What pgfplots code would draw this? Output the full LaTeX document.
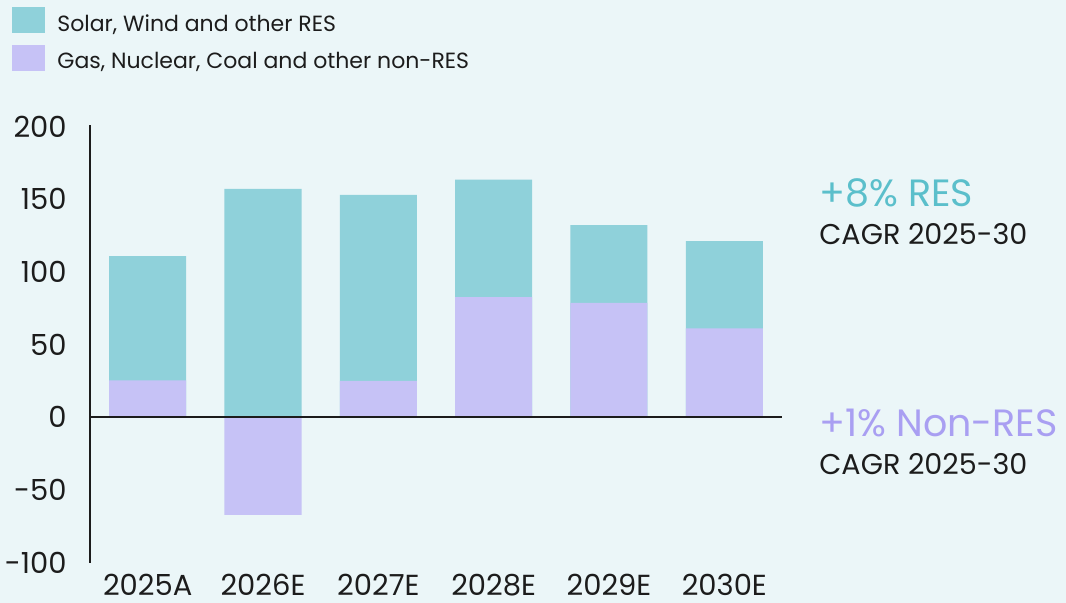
\documentclass[border=0pt]{standalone}
\usepackage{fontspec}
\setmainfont{Poppins}
\usepackage{pgfplots}
\pgfplotsset{compat=1.18}

\definecolor{bgc}{HTML}{EBF6F8}
\definecolor{resc}{HTML}{8FD1DA}
\definecolor{nonresc}{HTML}{C6C2F6}
\definecolor{restxt}{HTML}{5BBFCB}
\definecolor{nonrestxt}{HTML}{A99FF2}
\definecolor{txt}{HTML}{1C1C1C}

\begin{document}
\begin{tikzpicture}
    % canvas: 1066 x 603 px at 0.5pt per px
    \fill[bgc] (0,0) rectangle (533pt,301.5pt);
    \useasboundingbox (0,0) rectangle (533pt,301.5pt);

    \begin{axis}[
            at={(45pt,20.15pt)}, anchor=south west,
            scale only axis,
            width=346pt, height=218.85pt,
            ybar, bar width=38.5pt, bar shift=0pt,
            xmin=-0.5, xmax=5.5,
            ymin=-100, ymax=201,
            xtick={0,1,2,3,4,5},
            xticklabels={2025A,2026E,2027E,2028E,2029E,2030E},
            ytick={-100,-50,0,50,100,150,200},
            yticklabels={-100,-50,0,50,100,150,200},
            major tick length=0pt,
            separate axis lines,
            axis x line*=bottom,
            axis y line*=left,
            x axis line style={draw=none},
            y axis line style={txt, line width=0.75pt, -},
            xticklabel style={font=\fontsize{14.5}{16}\selectfont, text=txt, anchor=base, inner sep=0pt, yshift=-16.5pt},
            yticklabel style={font=\fontsize{14.5}{16}\selectfont, text=txt, anchor=east, inner sep=0pt, xshift=-11.5pt},
            /pgf/number format/assume math mode=true,
            legend style={
                at={(-0.1127,1.2696)}, anchor=north west,
                draw=none, fill=none, inner sep=0pt,
                font=\fontsize{11}{13}\selectfont, text=txt,
                cells={anchor=west},
                nodes={inner sep=0pt},
                row sep=5.5pt,
                /tikz/every odd column/.append style={column sep=6pt},
            },
            legend image code/.code={
                \fill[#1] (0pt,-4.5pt) rectangle (16.5pt,8.5pt);
            },
            clip=false,
        ]

        % totals (RES bar reaches up to this level)
        \addplot[fill=resc, draw=none] coordinates {
            (0,110.9) (1,157.0) (2,152.9) (3,163.5) (4,132.2) (5,121.2)
        };
        % non-RES portion
        \addplot[fill=nonresc, draw=none] coordinates {
            (0,25.4) (1,-67.2) (2,25.0) (3,82.7) (4,78.6) (5,61.1)
        };

        \draw[txt, line width=0.9pt] (axis cs:-0.5,0) -- (axis cs:5.5,0);

        \legend{{Solar, Wind and other RES}, {Gas, Nuclear, Coal and other non-RES}}
    \end{axis}

    \node[anchor=base west, inner sep=0pt, text=restxt, font=\fontsize{19}{22}\selectfont] at (409.5pt,198.15pt) {+8\% RES};
    \node[anchor=base west, inner sep=0pt, text=txt, font=\fontsize{14.3}{17}\selectfont] at (409.5pt,179pt) {CAGR 2025-30};
    \node[anchor=base west, inner sep=0pt, text=nonrestxt, font=\fontsize{19}{22}\selectfont] at (409.5pt,83.15pt) {+1\% Non-RES};
    \node[anchor=base west, inner sep=0pt, text=txt, font=\fontsize{14.3}{17}\selectfont] at (409.5pt,64pt) {CAGR 2025-30};
\end{tikzpicture}
\end{document}
